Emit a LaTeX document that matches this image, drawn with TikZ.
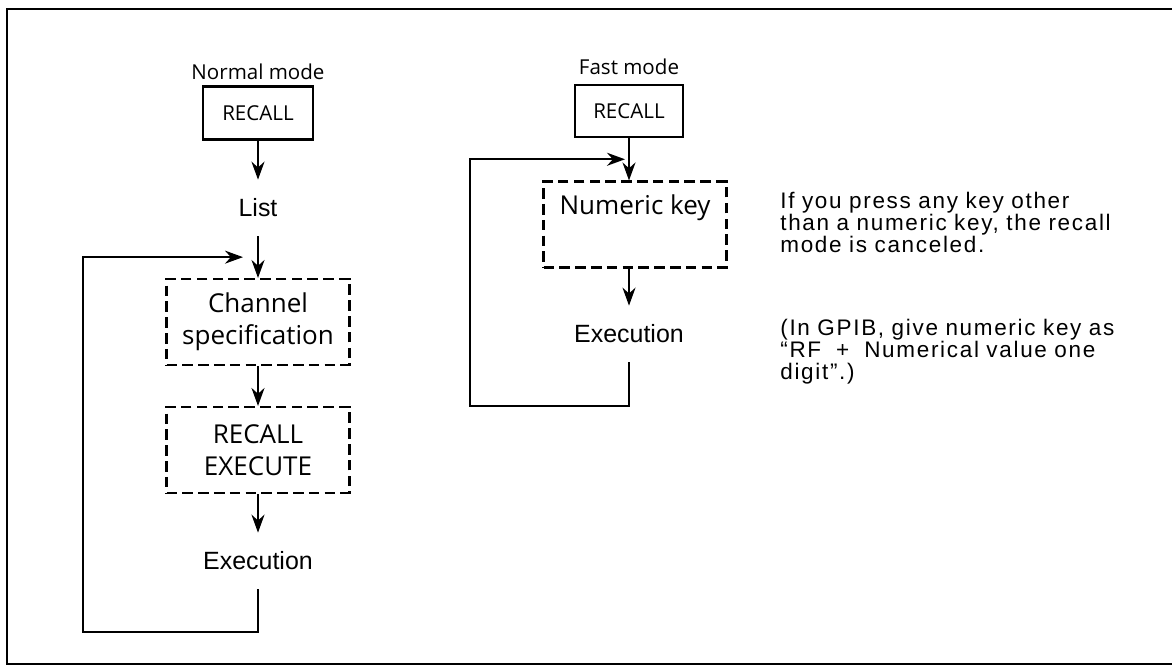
\documentclass[tikz,border=0pt]{standalone}
\usepackage{fontspec}
\setmainfont{Liberation Sans}
\newfontfamily\keyfont{Open Sans}
\newfontfamily\notefont[LetterSpace=7.5]{Liberation Sans}
\newcommand\notesize{\fontsize{12.8}{12.6}\selectfont\lineskiplimit-20pt\relax}
\usetikzlibrary{arrows.meta,positioning,calc}

\begin{document}
\begin{tikzpicture}[x=0.02cm,y=-0.02cm,
  keybox/.style={draw,line width=1.3pt,minimum width=2.2cm,minimum height=1.06cm,inner sep=0pt,font=\keyfont\fontsize{11.7}{14}\selectfont},
  modelbl/.style={inner sep=0pt,font=\keyfont\fontsize{11.7}{14}\selectfont},
  stepbox/.style={draw,line width=1.2pt,dash pattern=on 6pt off 3pt,minimum width=3.66cm,minimum height=1.72cm,inner sep=0pt,align=center,font=\keyfont\fontsize{14.8}{18.3}\selectfont},
  lbl/.style={inner sep=0pt,minimum height=1.12cm,font=\fontsize{14.2}{17}\selectfont},
  note/.style={anchor=north west,inner sep=0pt,text width=8cm,align=left,font=\notefont\notesize},
  arr/.style={line width=1.2pt,-{Stealth[length=0.36cm,width=0.26cm]}}]
  \useasboundingbox (0,0) rectangle (1172,668);
  \draw[line width=1.5pt] (1172,9) -- (7,9) -- (7,664) -- (1172,664);

  \node[modelbl] (nmode) at (258,72) {Normal mode};
  \node[keybox] (rec1) at (258,113) {RECALL};
  \node[lbl] (list) at (258,208) {List};
  \node[stepbox] (chan) at (258,322) {Channel\\specification};
  \node[stepbox] (exec) at (258,450) {RECALL\\EXECUTE};
  \node[lbl] (run1) at (258,561) {Execution};
  \draw[arr] (rec1.south) -- (list.north);
  \draw[arr] (list.south) -- (chan.north);
  \draw[arr] (chan.south) -- (exec.north);
  \draw[arr] (exec.south) -- (run1.north);
  \coordinate (join1) at ($(list.south)!0.5!(chan.north)$);
  \draw[arr,shorten >=0.3cm] (run1.south) -- ++(0,43) -| ($(join1)+(-175,0)$) -- (join1);

  \node[modelbl] (fmode) at (629,67) {Fast mode};
  \node[keybox,minimum width=2.16cm,minimum height=1.04cm] (rec2) at (629,111) {RECALL};
  \node[stepbox,inner ysep=0.3cm,text height=0.37cm,text depth=0.75cm] (numkey) at (635,224.5) {Numeric key};
  \node[lbl] (run2) at (629,334) {Execution};
  \draw[arr] (rec2.south) -- (rec2.south |- numkey.north);
  \draw[arr] (numkey.south -| run2.north) -- (run2.north);
  \coordinate (join2) at ($(rec2.south)!0.5!(rec2.south |- numkey.north)$);
  \draw[arr,shorten >=0.08cm] (run2.south) -- ++(0,44) -| ($(join2)+(-159,0)$) -- (join2);

  \node[note] (note1) at (780,192) {If you press any key other\\than a numeric key, the recall\\mode is canceled.};
  \node[note] (note2) at (780,319) {(In GPIB, give numeric key as\\“RF \ + \ Numerical value one\\digit”.)};
\end{tikzpicture}
\end{document}
